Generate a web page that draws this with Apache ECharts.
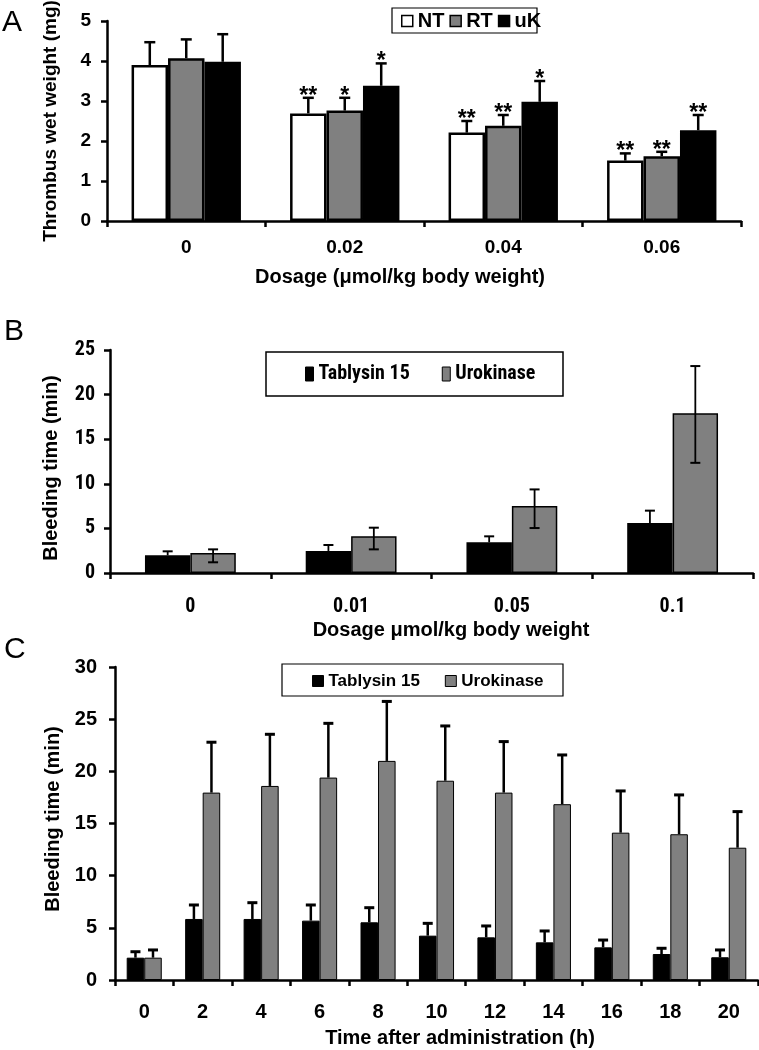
<!DOCTYPE html>
<html><head><meta charset="utf-8">
<script src="https://cdn.jsdelivr.net/npm/echarts@6/dist/echarts.min.js"></script>
<style>html,body{margin:0;padding:0;background:#fff}#c{width:759px;height:1050px}</style>
</head><body><div id="c"></div><script>
// ---------- Panel A data ----------
const dosageA = ['0', '0.02', '0.04', '0.06'];
const ntVals = [3.90, 2.69, 2.21, 1.51];
const ntErr = [0.57, 0.39, 0.29, 0.18];
const ntStars = ['', '**', '**', '**'];
const rtVals = [4.07, 2.76, 2.38, 1.62];
const rtErr = [0.47, 0.32, 0.27, 0.11];
const rtStars = ['', '*', '**', '**'];
const ukVals = [3.98, 3.38, 2.98, 2.27];
const ukErr = [0.69, 0.56, 0.52, 0.38];
const ukStars = ['', '*', '*', '**'];
// ---------- Panel B data ----------
const dosageB = ['0', '0.01', '0.05', '0.1'];
const tabB = [1.98, 2.47, 3.44, 5.6];
const tabBErr = [0.45, 0.67, 0.67, 1.39];
const uroB = [2.24, 4.11, 7.5, 17.9];
const uroBErrUp = [0.41, 0.97, 1.87, 5.3];
const uroBErrDown = [1.04, 1.46, 2.46, 5.55];
// ---------- Panel C data ----------
const timeC = ['0', '2', '4', '6', '8', '10', '12', '14', '16', '18', '20'];
const tabC = [2.14, 5.85, 5.85, 5.69, 5.53, 4.25, 4.09, 3.61, 3.13, 2.49, 2.18];
const tabCErr = [0.57, 1.34, 1.56, 1.5, 1.4, 1.18, 1.09, 1.09, 0.70, 0.55, 0.70];
const uroC = [2.14, 17.96, 18.6, 19.4, 21.0, 19.1, 17.96, 16.85, 14.12, 13.97, 12.68];
const uroCErr = [0.74, 4.83, 4.95, 5.2, 5.7, 5.25, 4.89, 4.72, 4.0, 3.77, 3.46];

const FF = "'Liberation Sans', Arial, sans-serif";
const FN = "'Roboto Condensed', 'DejaVu Sans Condensed', sans-serif";
const GREY = '#808080';

function xAx(gi, data, font, size, margin) {
  return { type: 'category', gridIndex: gi, data,
    axisLine: { lineStyle: { color: '#000', width: 2.5 } },
    axisTick: { show: true, length: 6, lineStyle: { color: '#000', width: 2.5 } },
    axisLabel: { color: '#000', fontFamily: font, fontWeight: 'bold', fontSize: size, margin },
    splitLine: { show: false } };
}
function yAx(gi, max, interval, font, size, margin) {
  return { type: 'value', gridIndex: gi, min: 0, max, interval,
    axisLine: { show: true, lineStyle: { color: '#000', width: 2.5 } },
    axisTick: { show: true, length: 6, lineStyle: { color: '#000', width: 2.5 } },
    axisLabel: { color: '#000', fontFamily: font, fontWeight: 'bold', fontSize: size, margin },
    splitLine: { show: false } };
}
function bar(name, gi, vals, color, bw, gap) {
  return { type: 'bar', name, xAxisIndex: gi, yAxisIndex: gi, data: vals, barGap: '0%', barCategoryGap: gap,
    itemStyle: { color, borderColor: '#000', borderWidth: bw }, silent: true };
}
function errSeries(gi, idx, n, gap, vals, up, down, stars, o) {
  const data = vals.map((v, i) => [i, v, up[i], down ? down[i] : 0]);
  return { type: 'custom', xAxisIndex: gi, yAxisIndex: gi, z: 10, silent: true,
    encode: { x: 0, y: 1 }, data,
    renderItem(params, api) {
      const i = api.value(0), v = api.value(1), u = api.value(2), d = api.value(3);
      const catW = api.size([1, 0])[0];
      const gw = catW * (1 - gap), bw = gw / n;
      const cx = api.coord([i, 0])[0] - gw / 2 + (idx + 0.5) * bw;
      const yt = api.coord([i, v + u])[1];
      const yb = api.coord([i, v - d])[1];
      const ch = [
        { type: 'line', shape: { x1: cx, y1: yt, x2: cx, y2: yb }, style: { stroke: '#000', lineWidth: o.lw } },
        { type: 'line', shape: { x1: cx - o.cap / 2, y1: yt, x2: cx + o.cap / 2, y2: yt }, style: { stroke: '#000', lineWidth: o.capW } }
      ];
      if (d > 0) ch.push({ type: 'line', shape: { x1: cx - o.cap / 2, y1: yb, x2: cx + o.cap / 2, y2: yb }, style: { stroke: '#000', lineWidth: o.capW } });
      const s = stars && stars[params.dataIndex];
      if (s) ch.push({ type: 'text', style: { text: s, x: cx, y: yt - 1.5, align: 'center', verticalAlign: 'middle', font: "bold 23px 'Liberation Sans', Arial, sans-serif", fill: '#000' } });
      return { type: 'group', children: ch };
    } };
}
const gA = 0.31, gB = 0.435, gC = 0.40;
const eA = { lw: 2.5, cap: 11, capW: 2.5 };
const eB = { lw: 1.8, cap: 10, capW: 2 };
const eC = { lw: 2.5, cap: 10, capW: 3 };

const option = {
  animation: false,
  backgroundColor: '#fff',
  textStyle: { fontFamily: FF },
  grid: [
    { left: 107, top: 21, width: 634, height: 200 },
    { left: 110, top: 350, width: 643, height: 223 },
    { left: 115, top: 667, width: 643, height: 313 }
  ],
  xAxis: [xAx(0, dosageA, FF, 19, 17), xAx(1, dosageB, FN, 20, 24), xAx(2, timeC, FF, 20, 22)],
  yAxis: [yAx(0, 5, 1, FF, 19, 16), yAx(1, 25, 5, FN, 20, 15), yAx(2, 30, 5, FF, 20, 18)],
  legend: [
    { data: ['NT', 'RT', 'uK'], left: 401, top: 11, padding: 0, itemGap: 5, itemWidth: 11, itemHeight: 11, icon: 'rect',
      itemStyle: { borderColor: '#000', borderWidth: 1.5 },
      textStyle: { fontFamily: FF, fontWeight: 'bold', fontSize: 20, color: '#000', lineHeight: 20 } },
    { data: ['Tablysin 15', 'Urokinase'], left: 305, top: 364, padding: 0, itemGap: 32, itemWidth: 8, itemHeight: 14, icon: 'rect',
      itemStyle: { borderColor: '#000', borderWidth: 1 },
      textStyle: { fontFamily: FN, fontWeight: 'bold', fontSize: 20, color: '#000', lineHeight: 20 } },
    { data: ['Tablysin 15', 'Urokinase'], left: 312, top: 671, padding: 0, itemGap: 25, itemWidth: 11, itemHeight: 11, icon: 'rect',
      itemStyle: { borderColor: '#000', borderWidth: 1 },
      textStyle: { fontFamily: FF, fontWeight: 'bold', fontSize: 17, color: '#000', lineHeight: 20 } }
  ],
  graphic: [
    { type: 'rect', shape: { x: 392, y: 8, width: 145, height: 25 }, style: { fill: '#fff', stroke: '#000', lineWidth: 1.2 }, z: -1 },
    { type: 'rect', shape: { x: 266, y: 352, width: 297, height: 44 }, style: { fill: '#fff', stroke: '#000', lineWidth: 1.5 }, z: -1 },
    { type: 'rect', shape: { x: 282, y: 664, width: 281, height: 32 }, style: { fill: '#fff', stroke: '#000', lineWidth: 1.2 }, z: -1 },
    { type: 'text', left: 2, top: 8, style: { text: 'A', font: "30px 'Liberation Sans', Arial, sans-serif", fill: '#000' } },
    { type: 'text', left: 4, top: 317, style: { text: 'B', font: "30px 'Liberation Sans', Arial, sans-serif", fill: '#000' } },
    { type: 'text', left: 4, top: 635, style: { text: 'C', font: "30px 'Liberation Sans', Arial, sans-serif", fill: '#000' } },
    { type: 'text', x: 51, y: 121, rotation: Math.PI / 2, style: { text: 'Thrombus wet weight (mg)', align: 'center', verticalAlign: 'middle', font: "bold 19px 'Liberation Sans', Arial, sans-serif", fill: '#000' } },
    { type: 'text', x: 400, y: 277, style: { text: 'Dosage (\u03bcmol/kg body weight)', align: 'center', verticalAlign: 'middle', font: "bold 20px 'Liberation Sans', Arial, sans-serif", fill: '#000' } },
    { type: 'text', x: 51, y: 468, rotation: Math.PI / 2, style: { text: 'Bleeding time (min)', align: 'center', verticalAlign: 'middle', font: "bold 20px 'Liberation Sans', Arial, sans-serif", fill: '#000' } },
    { type: 'text', x: 451, y: 630, style: { text: 'Dosage \u03bcmol/kg body weight', align: 'center', verticalAlign: 'middle', font: "bold 20px 'Liberation Sans', Arial, sans-serif", fill: '#000' } },
    { type: 'text', x: 53, y: 819, rotation: Math.PI / 2, style: { text: 'Bleeding time (min)', align: 'center', verticalAlign: 'middle', font: "bold 20px 'Liberation Sans', Arial, sans-serif", fill: '#000' } },
    { type: 'text', x: 460, y: 1038, style: { text: 'Time after administration (h)', align: 'center', verticalAlign: 'middle', font: "bold 20px 'Liberation Sans', Arial, sans-serif", fill: '#000' } }
  ],
  series: [
    bar('NT', 0, ntVals, '#fff', 2.5, '31%'),
    bar('RT', 0, rtVals, GREY, 2.5, '31%'),
    bar('uK', 0, ukVals, '#000', 2.5, '31%'),
    errSeries(0, 0, 3, gA, ntVals, ntErr, null, ntStars, eA),
    errSeries(0, 1, 3, gA, rtVals, rtErr, null, rtStars, eA),
    errSeries(0, 2, 3, gA, ukVals, ukErr, null, ukStars, eA),
    bar('Tablysin 15', 1, tabB, '#000', 1.5, '43.5%'),
    bar('Urokinase', 1, uroB, GREY, 1.5, '43.5%'),
    errSeries(1, 0, 2, gB, tabB, tabBErr, null, null, eB),
    errSeries(1, 1, 2, gB, uroB, uroBErrUp, uroBErrDown, null, eB),
    bar('Tablysin 15', 2, tabC, '#000', 1, '40%'),
    bar('Urokinase', 2, uroC, GREY, 1, '40%'),
    errSeries(2, 0, 2, gC, tabC, tabCErr, null, null, eC),
    errSeries(2, 1, 2, gC, uroC, uroCErr, null, null, eC)
  ]
};
const chart = echarts.init(document.getElementById('c'), null, { renderer: 'canvas' });
chart.setOption(option);
</script></body></html>
